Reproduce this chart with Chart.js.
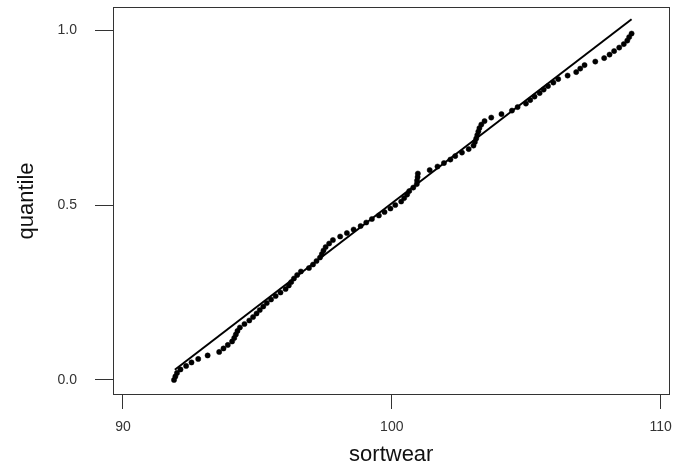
<!DOCTYPE html>
<html lang="en">
<head>
<meta charset="UTF-8" />
<title>sortwear quantile plot</title>
<script src="https://cdn.jsdelivr.net/npm/chart.js@4"></script>
<style>
  html, body { margin: 0; padding: 0; background: #fff; }
  #wrap { width: 674px; height: 470px; }
</style>
</head>
<body>
<div id="wrap"><canvas id="qplot" width="674" height="470"></canvas></div>
<script>
// sorted sortwear values and their quantiles
const sortwear = [
  91.90, 91.95, 92.01, 92.14, 92.35, 92.55, 92.80, 93.15, 93.58, 93.74,
  93.90, 94.06, 94.14, 94.20, 94.26, 94.35, 94.52, 94.70, 94.84, 94.97,
  95.09, 95.22, 95.35, 95.51, 95.68, 95.86, 96.05, 96.17, 96.26, 96.36,
  96.48, 96.62, 96.92, 97.07, 97.20, 97.33, 97.40, 97.46, 97.54, 97.67,
  97.81, 98.08, 98.33, 98.58, 98.84, 99.05, 99.26, 99.52, 99.73, 99.95,
  100.13, 100.35, 100.46, 100.57, 100.65, 100.80, 100.93, 100.94, 100.96, 100.97,
  101.41, 101.70, 101.94, 102.18, 102.36, 102.61, 102.86, 103.04, 103.09, 103.14,
  103.18, 103.22, 103.26, 103.33, 103.45, 103.70, 104.08, 104.47, 104.68, 104.99,
  105.15, 105.31, 105.50, 105.65, 105.81, 106.01, 106.19, 106.54, 106.86, 107.01,
  107.17, 107.57, 107.90, 108.10, 108.27, 108.46, 108.63, 108.76, 108.83, 108.92
];
const quantile = [
  0.00, 0.01, 0.02, 0.03, 0.04, 0.05, 0.06, 0.07, 0.08, 0.09,
  0.10, 0.11, 0.12, 0.13, 0.14, 0.15, 0.16, 0.17, 0.18, 0.19,
  0.20, 0.21, 0.22, 0.23, 0.24, 0.25, 0.26, 0.27, 0.28, 0.29,
  0.30, 0.31, 0.32, 0.33, 0.34, 0.35, 0.36, 0.37, 0.38, 0.39,
  0.40, 0.41, 0.42, 0.43, 0.44, 0.45, 0.46, 0.47, 0.48, 0.49,
  0.50, 0.51, 0.52, 0.53, 0.54, 0.55, 0.56, 0.57, 0.58, 0.59,
  0.60, 0.61, 0.62, 0.63, 0.64, 0.65, 0.66, 0.67, 0.68, 0.69,
  0.70, 0.71, 0.72, 0.73, 0.74, 0.75, 0.76, 0.77, 0.78, 0.79,
  0.80, 0.81, 0.82, 0.83, 0.84, 0.85, 0.86, 0.87, 0.88, 0.89,
  0.90, 0.91, 0.92, 0.93, 0.94, 0.95, 0.96, 0.97, 0.98, 0.99
];

// reference line end points
const fitX = [91.93, 108.92];
const fitY = [0.029, 1.031];

const xTicks = [90, 100, 110];
const yTicks = [0, 0.5, 1];

const FONT = "'Liberation Sans', Arial, sans-serif";

// full frame around the plot area
const frame = {
  id: 'frame',
  afterDatasetsDraw(chart) {
    const { ctx, chartArea: a } = chart;
    ctx.save();
    ctx.strokeStyle = '#333';
    ctx.lineWidth = 1;
    ctx.strokeRect(Math.round(a.left) + 0.5, Math.round(a.top) + 0.5,
      Math.round(a.right - a.left) - 1, Math.round(a.bottom - a.top) - 1);
    ctx.restore();
  }
};

// fixed axis boxes, no extra room for end labels
function noPad(s) {
  s.paddingTop = 0; s.paddingBottom = 0; s.paddingLeft = 0; s.paddingRight = 0;
}

new Chart(document.getElementById('qplot'), {
  type: 'scatter',
  data: {
    datasets: [
      {
        label: 'sortwear',
        data: sortwear.map((v, i) => ({ x: v, y: quantile[i] })),
        pointRadius: 2.6,
        pointBackgroundColor: '#000',
        pointBorderColor: '#000',
        pointBorderWidth: 0.5
      },
      {
        label: 'fit',
        data: fitX.map((v, i) => ({ x: v, y: fitY[i] })),
        showLine: true,
        borderColor: '#000',
        borderWidth: 2,
        pointRadius: 0
      }
    ]
  },
  options: {
    responsive: false,
    animation: false,
    layout: { padding: { top: 7, right: 4, left: 0, bottom: 0 } },
    plugins: { legend: { display: false }, tooltip: { enabled: false } },
    scales: {
      x: {
        min: 89.63, max: 110.33,
        afterBuildTicks: s => { s.ticks = xTicks.map(v => ({ value: v })); },
        afterFit: s => { s.height = 75; noPad(s); },
        grid: { drawOnChartArea: false, drawTicks: true, tickLength: 14, color: '#333' },
        border: { display: false },
        ticks: { autoSkip: false, maxRotation: 0, padding: 10, color: '#333', font: { family: FONT, size: 14 } },
        title: { display: true, text: 'sortwear', color: '#111', padding: { top: 0, bottom: 2 }, font: { family: FONT, size: 22 } }
      },
      y: {
        min: -0.043, max: 1.066,
        afterBuildTicks: s => { s.ticks = yTicks.map(v => ({ value: v })); },
        afterFit: s => { s.width = 113; noPad(s); },
        grid: { drawOnChartArea: false, drawTicks: true, tickLength: 18, color: '#333' },
        border: { display: false },
        ticks: { autoSkip: false, padding: 18, color: '#333', font: { family: FONT, size: 14 }, callback: v => v.toFixed(1) },
        title: { display: true, text: 'quantile', color: '#111', padding: { top: 14, bottom: 0 }, font: { family: FONT, size: 22 } }
      }
    }
  },
  plugins: [frame]
});
</script>
</body>
</html>
